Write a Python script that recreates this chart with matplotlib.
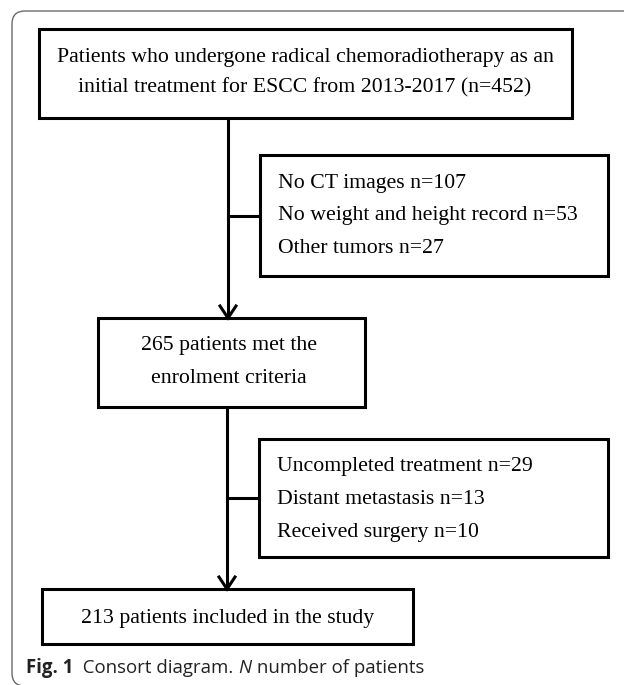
import matplotlib.pyplot as plt
from matplotlib.patches import Rectangle, FancyBboxPatch

# flow counts
total = 452
years = "2013-2017"
excl1_labels = ["No CT images", "No weight and height record", "Other tumors"]
excl1_counts = [107, 53, 27]
met_criteria = 265
excl2_labels = ["Uncompleted treatment", "Distant metastasis", "Received surgery"]
excl2_counts = [29, 13, 10]
included = 213

W, H = 624, 685
fig = plt.figure(figsize=(W / 100, H / 100), dpi=100)
ax = fig.add_axes([0, 0, 1, 1])
ax.set_xlim(0, W)
ax.set_ylim(H, 0)
ax.axis("off")

serif = "Liberation Serif"
fs = 15.65
lw = 2.2


def box(x0, y0, x1, y1):
    ax.add_patch(Rectangle((x0, y0), x1 - x0, y1 - y0, fill=False,
                           edgecolor="black", linewidth=lw, zorder=3))


def arrow(x, y0, y1):
    ax.plot([x, x], [y0, y1], color="black", lw=lw, solid_capstyle="butt")
    ax.plot([x - 8, x, x + 8], [y1 - 12, y1, y1 - 12], color="black", lw=lw,
            solid_joinstyle="miter")


# outer rounded frame (right and bottom run off the image)
ax.add_patch(FancyBboxPatch((12, 11), 700, 675, boxstyle="round,pad=0,rounding_size=13",
                            fill=False, edgecolor="#6a6a6a", linewidth=1.0))

# box 1
box(39, 29, 572, 118)
ax.text(305, 57, "Patients who undergone radical chemoradiotherapy as an",
        ha="center", va="center", family=serif, fontsize=fs)
ax.text(305, 88, f"initial treatment for ESCC from {years} (n={total})",
        ha="center", va="center", family=serif, fontsize=fs)

arrow(228, 118, 318)

# exclusion box 1
ax.plot([228, 260], [216, 216], color="black", lw=lw)
box(260, 155, 608, 276)
for i, (lab, n) in enumerate(zip(excl1_labels, excl1_counts)):
    ax.text(278, 183 + i * 32.5, f"{lab} n={n}", ha="left", va="center",
            family=serif, fontsize=fs)

# box 2
box(98, 318, 365, 407)
ax.text(229, 345, f"{met_criteria} patients met the", ha="center", va="center",
        family=serif, fontsize=fs)
ax.text(229, 378, "enrolment criteria", ha="center", va="center",
        family=serif, fontsize=fs)

arrow(227, 407, 589)

# exclusion box 2
ax.plot([227, 259], [498, 498], color="black", lw=lw)
box(259, 439, 608, 557)
for i, (lab, n) in enumerate(zip(excl2_labels, excl2_counts)):
    ax.text(277, 466 + i * 33, f"{lab} n={n}", ha="left", va="center",
            family=serif, fontsize=fs)

# box 3
box(42, 589, 413, 644)
ax.text(228, 618, f"{included} patients included in the study", ha="center",
        va="center", family=serif, fontsize=fs)

# caption with mixed styles
fig.canvas.draw()
rend = fig.canvas.get_renderer()
cap_fs = 13.4
parts = [("Fig. 1", "bold", "normal"), ("  Consort diagram. ", "normal", "normal"),
         ("N", "normal", "italic"), (" number of patients", "normal", "normal")]
x = 26
for s, weight, style in parts:
    t = ax.text(x, 673, s, ha="left", va="baseline", family="Open Sans",
                fontsize=cap_fs, fontweight=weight, fontstyle=style, color="#222222")
    bb = t.get_window_extent(renderer=rend)
    x += bb.width

fig.savefig("out.png", dpi=100)
